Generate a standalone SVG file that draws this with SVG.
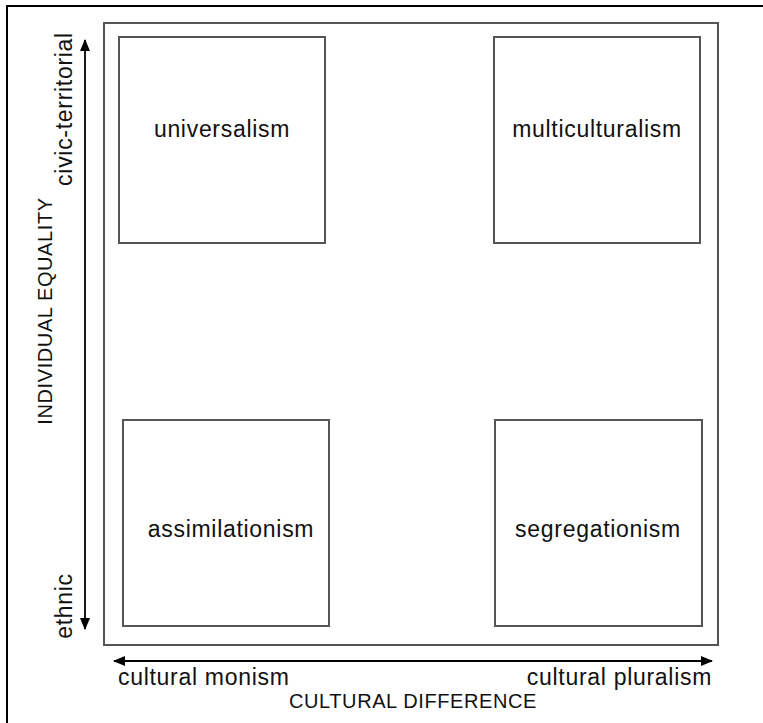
<svg xmlns="http://www.w3.org/2000/svg" width="763" height="723" viewBox="0 0 763 723">
<style>
  .box { fill: none; stroke: #555; stroke-width: 2; }
  .lbl { font-family: "Liberation Sans", Arial, sans-serif; font-size: 23px; letter-spacing: 0.7px; fill: #111; text-anchor: middle; }
  .axis { font-family: "Liberation Sans", Arial, sans-serif; font-size: 23px; letter-spacing: 0.7px; fill: #111; }
  .title { font-family: "Liberation Sans", Arial, sans-serif; font-size: 20px; letter-spacing: 0.6px; fill: #111; text-anchor: middle; }
  .arrow { stroke: #000; stroke-width: 1.8; fill: none; }
</style>
<defs>
  <marker id="ah" viewBox="0 0 12 10" refX="11" refY="5" markerWidth="12" markerHeight="10" markerUnits="userSpaceOnUse" orient="auto-start-reverse">
    <path d="M0,0 L12,5 L0,10 Z" fill="#000"/>
  </marker>
</defs>
<rect x="0" y="0" width="763" height="723" fill="#fff"/>
<rect x="7" y="6" width="820" height="800" fill="none" stroke="#000" stroke-width="2"/>
<g id="frame"><rect class="box" x="104" y="23" width="614" height="622"/></g>
<g id="universalism"><rect class="box" x="119" y="37" width="206" height="206"/><text class="lbl" x="222" y="137">universalism</text></g>
<g id="multiculturalism"><rect class="box" x="494" y="37" width="206" height="206"/><text class="lbl" x="597" y="137">multiculturalism</text></g>
<g id="assimilationism"><rect class="box" x="123" y="420" width="206" height="206"/><text class="lbl" x="231" y="537">assimilationism</text></g>
<g id="segregationism"><rect class="box" x="495" y="420" width="207" height="206"/><text class="lbl" x="598" y="537">segregationism</text></g>
<g id="connectors">
  <line class="arrow" x1="85" y1="40" x2="85" y2="629" marker-start="url(#ah)" marker-end="url(#ah)"/>
  <line class="arrow" x1="114" y1="661" x2="712" y2="661" marker-start="url(#ah)" marker-end="url(#ah)"/>
</g>
<g id="axis-labels">
  <text class="axis" text-anchor="middle" transform="translate(72,109) rotate(-90)">civic-territorial</text>
  <text class="axis" text-anchor="middle" transform="translate(72,606) rotate(-90)">ethnic</text>
  <text class="title" transform="translate(52,311) rotate(-90)">INDIVIDUAL EQUALITY</text>
  <text class="axis" x="118" y="685">cultural monism</text>
  <text class="axis" x="712" y="685" text-anchor="end">cultural pluralism</text>
  <text class="title" x="413" y="708">CULTURAL DIFFERENCE</text>
</g>
</svg>
